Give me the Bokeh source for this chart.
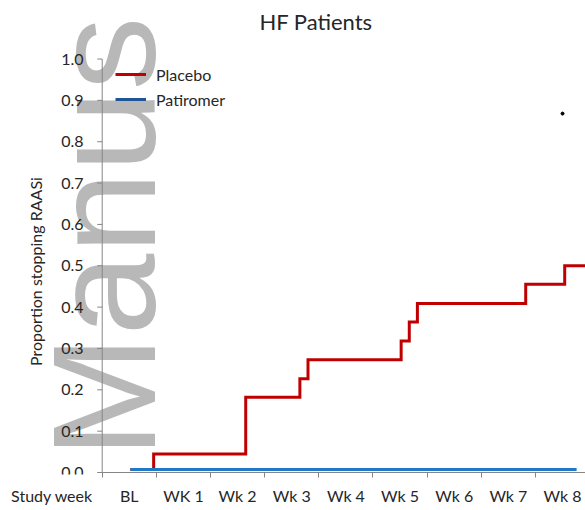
import math
from bokeh.plotting import figure
from bokeh.models import Range1d, FixedTicker, Label, Legend, LegendItem
from bokeh.core.properties import value
from bokeh.embed import file_html
from bokeh.resources import INLINE

# ---- data ----
week_labels = ["BL", "WK 1", "Wk 2", "Wk 3", "Wk 4", "Wk 5", "Wk 6", "Wk 7", "Wk 8"]
placebo_x = [0.52, 0.95, 2.65, 3.65, 3.80, 5.52, 5.67, 5.82, 7.82, 8.54, 9.0]
placebo_y = [0.007, 0.045, 0.182, 0.227, 0.273, 0.318, 0.364, 0.409, 0.455, 0.500, 0.500]
patiromer_x = [0.52, 8.76]
patiromer_y = [0.007, 0.007]
y_ticks = [0.0, 0.1, 0.2, 0.3, 0.4, 0.5, 0.6, 0.7, 0.8, 0.9, 1.0]
y_tick_labels = ["0.0", "0.1", "0.2", "0.3", "0.4", "0.5", "0.6", "0.7", "0.8", "0.9", "1.0"]
stray_x = [8.5]
stray_y = [0.868]

FONT = "Lato"
TXT = "#262626"
AX = "#868686"
RED = "#c00000"
BLUE = "#1f78c8"
BLUE_LEG = "#1f5596"

X_END = 8.924
Y_START = -0.0048
Y_END = 1.1415

p = figure(width=585, height=510, output_backend="svg", toolbar_location=None,
           x_range=Range1d(-1.878, X_END), y_range=Range1d(Y_START, Y_END),
           y_axis_location=None,
           min_border_left=0, min_border_right=0, min_border_top=0,
           min_border_bottom=36)
p.outline_line_color = None
p.xgrid.visible = False
p.ygrid.visible = False

# watermark
wm = Label(x=0.024, y=0.035, text="Manus", angle=math.pi / 2,
           text_font="Liberation Sans", text_font_size="147px",
           text_color="#b8b8b8", text_align="left", text_baseline="alphabetic",
           level="underlay")
p.add_layout(wm)

# axis lines (y axis at x=0, x axis at y=0)
p.segment(x0=[0, 0], y0=[0, 0], x1=[0, X_END], y1=[y_ticks[-1], 0],
          line_color=AX, line_width=1)
# y ticks and labels
p.segment(x0=[-0.092] * len(y_ticks), y0=y_ticks, x1=[0] * len(y_ticks), y1=y_ticks,
          line_color=AX, line_width=1)
p.text(x=[-0.345] * len(y_ticks), y=y_ticks, text=y_tick_labels,
       text_font=value(FONT), text_font_size="16px", text_color=TXT,
       text_align="right", text_baseline="middle")
p.text(x=[-1.232], y=[0.486], text=["Proportion stopping RAASi"], angle=math.pi / 2,
       text_font=value(FONT), text_font_size="16px", text_color=TXT,
       text_align="center", text_baseline="middle")
# title
p.text(x=[3.948], y=[1.0914], text=["HF Patients"],
       text_font=value(FONT), text_font_size="22px", text_color=TXT,
       text_align="center", text_baseline="middle")

# data lines
p.step(placebo_x, placebo_y, mode="after", line_color=RED, line_width=3,
       line_join="miter")
p.line(patiromer_x, patiromer_y, line_color=BLUE, line_width=3)
p.scatter(stray_x, stray_y, size=3, color="black")

# legend (renderers kept outside the visible area)
r_pl = p.line([-5, -4], [-1, -1], line_color=RED, line_width=3)
r_pa = p.line([-5, -4], [-1, -1], line_color=BLUE_LEG, line_width=3)
legend = Legend(items=[LegendItem(label="Placebo", renderers=[r_pl]),
                       LegendItem(label="Patiromer", renderers=[r_pa])],
                location=(115, 365), padding=0, margin=0, spacing=5,
                glyph_width=31, glyph_height=20, label_height=20,
                label_standoff=10, label_text_font=FONT,
                label_text_font_size="16px", label_text_color=TXT,
                border_line_color=None, background_fill_alpha=0)
p.add_layout(legend)

# x axis
xa = p.xaxis[0]
centers = [-0.927] + [i + 0.5 for i in range(len(week_labels))]
xa.ticker = FixedTicker(ticks=centers, minor_ticks=list(range(len(week_labels) + 1)))
overrides = {-0.927: "Study week"}
overrides.update({i + 0.5: lab for i, lab in enumerate(week_labels)})
xa.major_label_overrides = overrides
xa.axis_line_color = None
xa.major_tick_line_color = None
xa.major_tick_out = 0
xa.major_tick_in = 0
xa.minor_tick_line_color = AX
xa.minor_tick_out = 3
xa.minor_tick_in = 2
xa.major_label_standoff = 8
xa.major_label_text_font = FONT
xa.major_label_text_font_size = "16px"
xa.major_label_text_color = TXT

open("out.html", "w").write(file_html(p, INLINE))
